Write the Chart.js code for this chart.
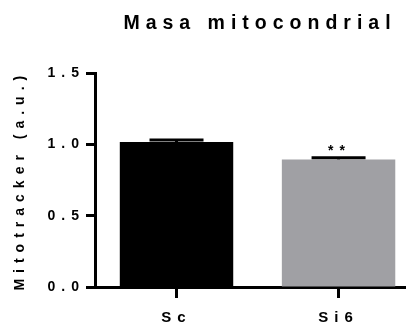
<!DOCTYPE html>
<html>
<head>
<meta charset="utf-8">
<script src="https://cdn.jsdelivr.net/npm/chart.js@4"></script>
<style>
  html, body { margin: 0; padding: 0; background: #fff; }
  #wrap { width: 411px; height: 327px; }
</style>
</head>
<body>
<div id="wrap"><canvas id="grafico"></canvas></div>
<script>
const categories = ['Sc', 'Si6'];
const means = [1.018, 0.895];
const errors = [0.014, 0.012];
const stars = ['', '**'];
const barColors = ['#000000', '#a0a0a4'];
const yTicks = [0, 0.5, 1.0, 1.5];

const SPACING = '6px';
const FONT = "'Liberation Sans', Arial, sans-serif";

const spacingPlugin = {
  id: 'spacing',
  beforeLayout(chart) { chart.ctx.letterSpacing = SPACING; },
  afterLayout(chart) {
    // title centered over the plot like the original
    if (chart.titleBlock) { chart.titleBlock.left = 109; chart.titleBlock.right = 411; }
  },
  beforeDraw(chart) { chart.ctx.letterSpacing = SPACING; }
};

const errorBars = {
  id: 'errorBars',
  afterDatasetsDraw(chart) {
    const ctx = chart.ctx;
    const y = chart.scales.y;
    const meta = chart.getDatasetMeta(0);
    ctx.save();
    ctx.letterSpacing = SPACING;
    meta.data.forEach((bar, i) => {
      const top = y.getPixelForValue(means[i] + errors[i]);
      const base = y.getPixelForValue(means[i]);
      ctx.strokeStyle = '#000';
      ctx.lineWidth = 3;
      ctx.beginPath();
      ctx.moveTo(bar.x, base);
      ctx.lineTo(bar.x, top);
      ctx.moveTo(bar.x - 27, top);
      ctx.lineTo(bar.x + 27, top);
      ctx.stroke();
      if (stars[i]) {
        ctx.fillStyle = '#000';
        ctx.font = 'bold 14px ' + FONT;
        ctx.textAlign = 'center';
        ctx.textBaseline = 'alphabetic';
        ctx.fillText(stars[i], bar.x + 1, top - 3);
      }
    });
    ctx.restore();
  }
};

new Chart(document.getElementById('grafico').getContext('2d'), {
  type: 'bar',
  data: {
    datasets: [{
      data: means.map((v, i) => ({ x: i, y: v })),
      backgroundColor: barColors,
      borderWidth: 0,
      barPercentage: 0.7,
      categoryPercentage: 1
    }]
  },
  options: {
    responsive: true,
    maintainAspectRatio: false,
    animation: false,
    layout: { padding: { left: 0, right: 6, top: 0, bottom: 0 } },
    plugins: {
      legend: { display: false },
      tooltip: { enabled: false },
      title: {
        display: true,
        text: 'Masa mitocondrial',
        color: '#000',
        font: { family: FONT, size: 19.5, weight: 'bold' },
        padding: { top: 12, bottom: 38 }
      }
    },
    scales: {
      x: {
        type: 'linear',
        offset: false,
        min: -0.503,
        max: 1.41,
        afterBuildTicks: (s) => { s.ticks = categories.map((c, i) => ({ value: i })); },
        afterFit: (s) => { s.height = 40; },
        grid: { display: true, offset: false, drawOnChartArea: false, drawTicks: true, tickLength: 11, tickWidth: 3, tickColor: '#000' },
        border: { display: true, color: '#000', width: 3 },
        ticks: {
          autoSkip: false,
          maxRotation: 0,
          padding: 11,
          color: '#000',
          font: { family: FONT, size: 15, weight: 'bold' },
          callback: (v) => categories[v]
        }
      },
      y: {
        min: 0,
        max: 1.5,
        afterBuildTicks: (s) => { s.ticks = yTicks.map(v => ({ value: v })); },
        afterFit: (s) => { s.width = 95; },
        grid: { display: true, drawOnChartArea: false, drawTicks: true, tickLength: 9, tickWidth: 3, tickColor: '#000' },
        border: { display: true, color: '#000', width: 3 },
        ticks: {
          padding: 1,
          color: '#000',
          font: { family: FONT, size: 14, weight: 'bold' },
          callback: (v) => v.toFixed(1)
        },
        title: {
          display: true,
          text: 'Mitotracker (a.u.)',
          color: '#000',
          font: { family: FONT, size: 14, weight: 'bold' },
          padding: { top: 12, bottom: 0 }
        }
      }
    }
  },
  plugins: [spacingPlugin, errorBars]
});
</script>
</body>
</html>
